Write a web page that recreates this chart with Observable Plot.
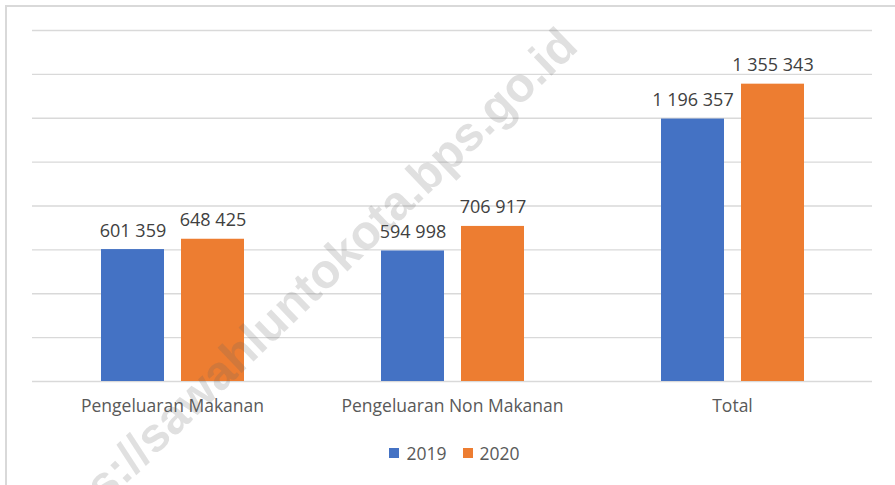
<!DOCTYPE html>
<html>
<head>
<meta charset="utf-8">
<script src="https://cdn.jsdelivr.net/npm/d3@7"></script>
<script src="https://cdn.jsdelivr.net/npm/@observablehq/plot@0.6"></script>
<style>
  html, body { margin: 0; padding: 0; background: #fff; }
  #wrap { position: relative; width: 895px; height: 485px; overflow: hidden; background: #fff; font-family: "Open Sans", Lato, sans-serif; }
  #border { position: absolute; left: 5px; top: 5px; width: 920px; height: 520px; border: 2px solid #d9d9d9; box-sizing: border-box; }
  #chart { position: absolute; left: 0; top: 0; }
  #legend { position: absolute; left: 7px; width: 895px; top: 441px; display: flex; justify-content: center; align-items: center; gap: 16px; font-size: 17.5px; color: #595959; }
  #legend .item { display: flex; align-items: center; gap: 7px; }
  #legend .sw { width: 10px; height: 10px; display: inline-block; }
  #watermark { position: absolute; left: 298px; top: 296px; transform: translate(-50%, -50%) rotate(-43.8deg); font-family: "Liberation Sans", Arial, sans-serif; font-weight: bold; font-size: 48px; color: rgba(100,100,100,0.2); white-space: nowrap; pointer-events: none; }
</style>
</head>
<body>
<div id="wrap">
  <div id="border"></div>
  <div id="chart"></div>
  <div id="legend"></div>
  <div id="watermark"></div>
</div>
<script>
const categories = ["Pengeluaran Makanan", "Pengeluaran Non Makanan", "Total"];
const years = ["2019", "2020"];
const values2019 = [601359, 594998, 1196357];
const values2020 = [648425, 706917, 1355343];
const yTicks = [0, 200000, 400000, 600000, 800000, 1000000, 1200000, 1400000, 1600000];
const colors = ["#4472C4", "#ED7D31"];
const watermarkText = "https://sawahluntokota.bps.go.id";

const fmt = d3.formatLocale({decimal: ",", thousands: " ", grouping: [3], currency: ["", ""]}).format(",d");

const data = [];
categories.forEach((c, i) => {
  data.push({cat: c, year: years[0], value: values2019[i]});
  data.push({cat: c, year: years[1], value: values2020[i]});
});

const chart = Plot.plot({
  width: 895,
  height: 432,
  marginLeft: 31,
  marginRight: 23,
  marginTop: 30,
  marginBottom: 51,
  style: {fontFamily: "'Open Sans', Lato, sans-serif", background: "transparent", overflow: "visible"},
  fx: {domain: categories, padding: 0, label: null},
  x: {domain: years, paddingInner: 0.2125, paddingOuter: 0.856, axis: null},
  y: {domain: [0, 1600000], axis: null},
  color: {domain: years, range: colors},
  marks: [
    Plot.ruleY(yTicks, {stroke: "#d9d9d9", strokeWidth: 1.4}),
    Plot.axisFx({anchor: "bottom", tickSize: 0, tickPadding: 18, fontSize: 17.5, fill: "#595959", label: null}),
    Plot.barY(data, {fx: "cat", x: "year", y: "value", fill: "year"}),
    Plot.text(data, {fx: "cat", x: "year", y: "value", text: d => fmt(d.value), lineAnchor: "bottom", dy: -13, fontSize: 18, fill: "#404040"})
  ]
});
document.getElementById("chart").appendChild(chart);

const legend = document.getElementById("legend");
years.forEach((y, i) => {
  const it = document.createElement("div");
  it.className = "item";
  it.innerHTML = `<span class="sw" style="background:${colors[i]}"></span><span>${y}</span>`;
  legend.appendChild(it);
});
document.getElementById("watermark").textContent = watermarkText;
</script>
</body>
</html>
